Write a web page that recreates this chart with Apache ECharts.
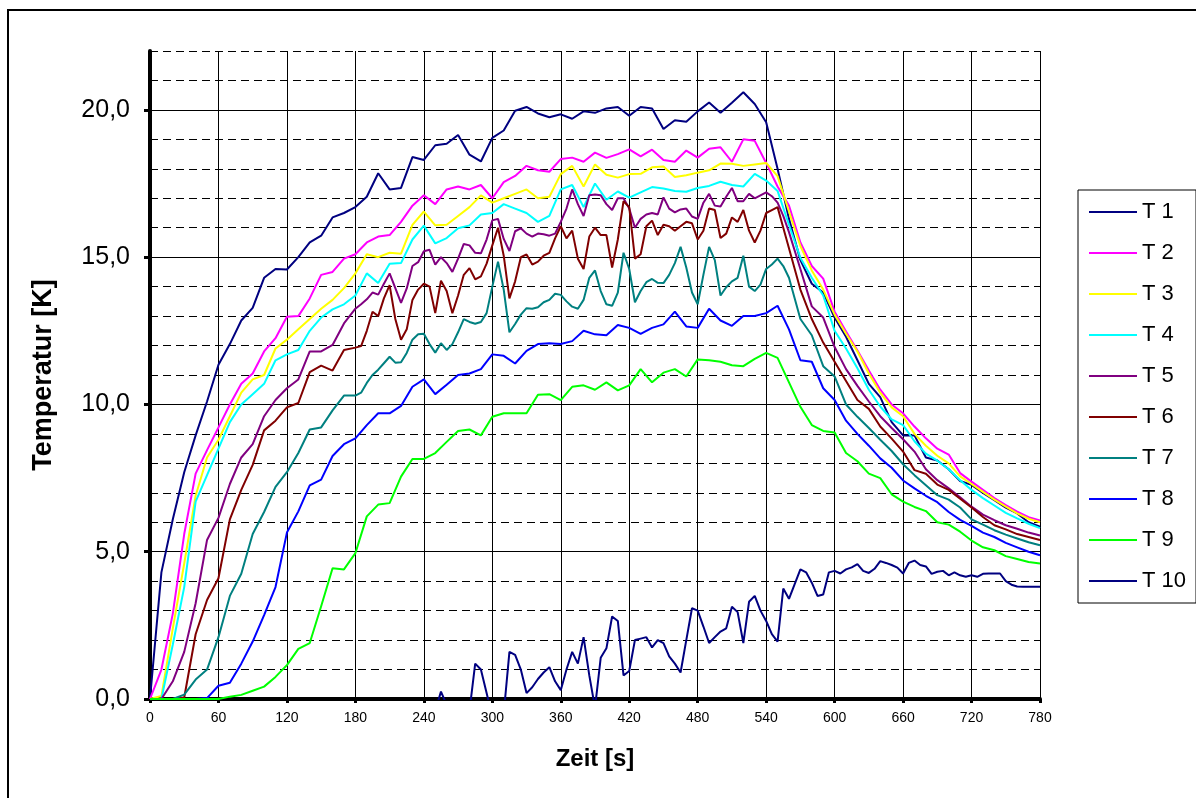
<!DOCTYPE html>
<html>
<head>
<meta charset="utf-8">
<title>Temperatur T 1 - T 10</title>
<script src="https://cdn.jsdelivr.net/npm/echarts@6/dist/echarts.min.js"></script>
<style>
  html, body { margin: 0; padding: 0; background: #fff; }
  #chart { width: 1196px; height: 798px; }
</style>
</head>
<body>
<div id="chart"></div>
<script>
// Zeit [s], 10-s-Raster für T 1 - T 4, T 8, T 9
const seconds = [0, 10, 20, 30, 40, 50, 60, 70, 80, 90,
  100, 110, 120, 130, 140, 150, 160, 170, 180, 190,
  200, 210, 220, 230, 240, 250, 260, 270, 280, 290,
  300, 310, 320, 330, 340, 350, 360, 370, 380, 390,
  400, 410, 420, 430, 440, 450, 460, 470, 480, 490,
  500, 510, 520, 530, 540, 550, 560, 570, 580, 590,
  600, 610, 620, 630, 640, 650, 660, 670, 680, 690,
  700, 710, 720, 730, 740, 750, 760, 770, 780];

// T 5 - T 7 schwanken stark: zwischen 180 und 560 s im 5-s-Raster
const secondsFine = [0, 10, 20, 30, 40, 50, 60, 70, 80, 90,
  100, 110, 120, 130, 140, 150, 160, 170,
  180, 185, 190, 195, 200, 205, 210, 215, 220, 225,
  230, 235, 240, 245, 250, 255, 260, 265, 270, 275,
  280, 285, 290, 295, 300, 305, 310, 315, 320, 325,
  330, 335, 340, 345, 350, 355, 360, 365, 370, 375,
  380, 385, 390, 395, 400, 405, 410, 415, 420, 425,
  430, 435, 440, 445, 450, 455, 460, 465, 470, 475,
  480, 485, 490, 495, 500, 505, 510, 515, 520, 525,
  530, 535, 540, 545, 550, 555, 560,
  570, 580, 590, 600, 610, 620, 630, 640, 650, 660,
  670, 680, 690, 700, 710, 720, 730, 740, 750, 760,
  770, 780];

// T 10 im 5-s-Raster, vor 245 s liegt die Kurve unter 0
const secondsT10 = [245, 250, 255, 260, 265, 270, 275, 280, 285, 290,
  295, 300, 305, 310, 315, 320, 325, 330, 335, 340,
  345, 350, 355, 360, 365, 370, 375, 380, 385, 390,
  395, 400, 405, 410, 415, 420, 425, 430, 435, 440,
  445, 450, 455, 460, 465, 470, 475, 480, 485, 490,
  495, 500, 505, 510, 515, 520, 525, 530, 535, 540,
  545, 550, 555, 560, 565, 570, 575, 580, 585, 590,
  595, 600, 605, 610, 615, 620, 625, 630, 635, 640,
  645, 650, 655, 660, 665, 670, 675, 680, 685, 690,
  695, 700, 705, 710, 715, 720, 725, 730, 735, 740,
  745, 750, 755, 760, 765, 770, 775, 780];

const t1 = [0, 4.3, 6.1, 7.7, 8.95, 10.1, 11.35, 12.05, 12.85, 13.28,
  14.3, 14.6, 14.58, 15.0, 15.5, 15.73, 16.35, 16.5, 16.7, 17.05,
  17.85, 17.3, 17.35, 18.4, 18.3, 18.8, 18.85, 19.15, 18.48, 18.25,
  19.05, 19.3, 19.97, 20.1, 19.88, 19.75, 19.85, 19.7, 19.95, 19.9,
  20.05, 20.1, 19.8, 20.1, 20.05, 19.35, 19.65, 19.6, 19.95, 20.25,
  19.9, 20.24, 20.6, 20.2, 19.58, 18.0, 16.3, 14.9, 14.1, 13.8,
  12.95, 12.3, 11.5, 10.7, 10.25, 9.4, 8.95, 8.95, 8.2, 8.1,
  7.8, 7.4, 7.27, 7.0, 6.75, 6.5, 6.3, 6.0, 5.85];

const t2 = [0, 1.0, 2.9, 5.6, 7.65, 8.45, 9.22, 10.0, 10.7, 11.05,
  11.8, 12.25, 12.98, 13.0, 13.6, 14.4, 14.5, 14.95, 15.1, 15.5,
  15.7, 15.75, 16.2, 16.75, 17.1, 16.8, 17.3, 17.4, 17.3, 17.45,
  17.0, 17.55, 17.76, 18.1, 17.95, 17.9, 18.33, 18.38, 18.24, 18.55,
  18.37, 18.5, 18.66, 18.42, 18.65, 18.3, 18.24, 18.62, 18.38, 18.68,
  18.73, 18.24, 19.0, 18.95, 18.2, 17.4, 16.75, 15.5, 14.7, 14.27,
  13.15, 12.48, 11.83, 11.15, 10.5, 10.0, 9.7, 9.25, 8.85, 8.5,
  8.3, 7.67, 7.38, 7.1, 6.82, 6.58, 6.36, 6.17, 6.06];

const t3 = [0, 0.1, 2.4, 4.6, 6.9, 8.2, 8.8, 9.6, 10.4, 10.85,
  11.0, 11.9, 12.2, 12.55, 12.9, 13.25, 13.55, 13.95, 14.45, 15.1,
  15.0, 15.15, 15.12, 16.1, 16.55, 16.08, 16.1, 16.4, 16.7, 17.1,
  16.85, 17.0, 17.15, 17.3, 17.0, 17.05, 17.82, 18.1, 17.4, 18.15,
  17.8, 17.7, 17.82, 17.83, 18.05, 18.08, 17.72, 17.78, 17.87, 17.95,
  18.18, 18.17, 18.1, 18.15, 18.2, 17.75, 16.55, 15.38, 14.55, 13.9,
  13.05, 12.4, 11.8, 11.05, 10.4, 9.9, 9.6, 9.0, 8.6, 8.26,
  8.0, 7.56, 7.3, 7.03, 6.77, 6.53, 6.3, 6.12, 6.0];

const t4 = [0, 0, 1.85, 3.8, 6.7, 7.6, 8.5, 9.4, 10.0, 10.35,
  10.7, 11.5, 11.7, 11.85, 12.5, 12.95, 13.23, 13.4, 13.7, 14.45,
  14.12, 14.78, 14.8, 15.6, 16.07, 15.47, 15.65, 15.98, 16.08, 16.45,
  16.5, 16.8, 16.65, 16.5, 16.2, 16.4, 17.3, 17.45, 16.7, 17.5,
  16.95, 17.23, 17.02, 17.2, 17.38, 17.33, 17.25, 17.22, 17.35, 17.42,
  17.56, 17.45, 17.4, 17.83, 17.6, 17.25, 16.1, 14.98, 14.3, 13.7,
  12.5, 11.9, 11.23, 10.5, 9.93, 9.49, 9.3, 8.75, 8.33, 8.09,
  7.8, 7.43, 7.1, 6.82, 6.57, 6.32, 6.13, 5.95, 5.8];

const t5 = [0, 0, 0.6, 1.6, 3.25, 5.4, 6.15, 7.3, 8.2, 8.65,
  9.6, 10.15, 10.55, 10.85, 11.8, 11.8, 12.02, 12.75,
  13.25, 13.4, 13.57, 13.8, 13.73, 14.1, 14.45, 13.95, 13.45, 13.94,
  14.7, 14.83, 15.2, 15.25, 14.75, 15.0, 14.8, 14.5, 14.95, 15.45,
  15.4, 15.15, 15.13, 15.6, 16.25, 16.3, 15.62, 15.21, 15.88, 15.98,
  15.8, 15.7, 15.8, 15.78, 15.73, 15.8, 16.2, 16.65, 17.3, 16.8,
  16.4, 17.1, 17.13, 17.1, 16.8, 16.6, 17.0, 17.0, 16.65, 16.0,
  16.3, 16.45, 16.5, 16.45, 17.03, 16.65, 16.52, 16.62, 16.65, 16.38,
  16.3, 16.85, 17.15, 16.75, 16.72, 17.05, 17.35, 16.9, 16.9, 17.15,
  17.0, 17.1, 17.2, 17.07, 16.85, 16.4, 15.85,
  14.6, 13.33, 12.95, 11.95, 11.2, 10.63, 10.1, 9.6, 9.2, 8.82,
  8.4, 7.8, 7.43, 7.15, 6.85, 6.53, 6.26, 6.07, 5.9, 5.78,
  5.65, 5.55];

const t6 = [0, 0, 0, 0.05, 2.2, 3.36, 4.1, 6.1, 7.1, 7.95,
  9.12, 9.45, 9.9, 10.05, 11.1, 11.32, 11.15, 11.85,
  11.93, 11.98, 12.5, 13.15, 13.0, 13.6, 14.05, 12.9, 12.2, 12.55,
  13.55, 13.9, 14.1, 14.0, 13.1, 14.2, 13.85, 13.1, 13.7, 14.4,
  14.63, 14.25, 14.35, 14.78, 15.4, 16.0, 15.05, 13.6, 14.18, 15.0,
  15.09, 14.75, 14.85, 15.05, 15.15, 15.64, 16.05, 15.64, 15.9, 14.95,
  14.6, 15.7, 16.0, 15.75, 15.75, 14.65, 15.6, 16.9, 16.7, 14.95,
  15.1, 16.05, 16.24, 15.75, 16.1, 16.05, 15.9, 16.05, 16.2, 16.15,
  15.6, 15.9, 16.65, 16.6, 15.65, 15.8, 16.35, 16.2, 16.6, 15.9,
  15.5, 15.9, 16.5, 16.6, 16.7, 16.0, 15.3,
  13.9, 12.9, 12.1, 11.45, 10.8, 10.15, 9.85, 9.25, 8.84, 8.4,
  7.77, 7.65, 7.28, 7.1, 6.8, 6.5, 6.18, 5.9, 5.76, 5.6,
  5.5, 5.4];

const t7 = [0, 0, 0, 0.15, 0.66, 1.0, 2.1, 3.5, 4.25, 5.6,
  6.35, 7.2, 7.7, 8.35, 9.15, 9.22, 9.8, 10.3,
  10.3, 10.4, 10.73, 11.0, 11.18, 11.4, 11.62, 11.42, 11.43, 11.75,
  12.2, 12.38, 12.4, 12.05, 11.76, 12.08, 11.85, 12.05, 12.45, 12.9,
  12.8, 12.74, 12.8, 13.1, 14.0, 14.85, 13.9, 12.45, 12.73, 13.05,
  13.27, 13.25, 13.3, 13.47, 13.55, 13.76, 13.72, 13.5, 13.32, 13.25,
  13.55, 14.3, 14.55, 13.85, 13.4, 13.35, 13.8, 15.15, 14.6, 13.47,
  13.85, 14.15, 14.26, 14.13, 14.12, 14.4, 14.8, 15.35, 14.65, 13.8,
  13.4, 14.4, 15.35, 14.9, 13.7, 13.98, 14.18, 14.3, 15.05, 14.0,
  13.85, 14.07, 14.6, 14.75, 14.95, 14.7, 14.3,
  12.9, 12.35, 11.3, 10.95, 10.0, 9.58, 9.2, 8.8, 8.42, 7.97,
  7.6, 7.26, 6.92, 6.77, 6.5, 6.1, 5.92, 5.73, 5.58, 5.45,
  5.32, 5.22];

const t8 = [0, 0, 0, 0, 0, 0.03, 0.45, 0.55, 1.2, 1.95,
  2.85, 3.8, 5.65, 6.37, 7.25, 7.45, 8.25, 8.65, 8.85, 9.3,
  9.7, 9.7, 9.95, 10.6, 10.85, 10.35, 10.67, 11.0, 11.05, 11.2,
  11.7, 11.65, 11.39, 11.82, 12.05, 12.08, 12.05, 12.15, 12.5, 12.38,
  12.35, 12.7, 12.6, 12.4, 12.6, 12.72, 13.15, 12.65, 12.6, 13.25,
  12.85, 12.67, 13.0, 13.0, 13.1, 13.35, 12.55, 11.5, 11.45, 10.55,
  10.15, 9.45, 9.0, 8.6, 8.17, 7.85, 7.42, 7.15, 6.9, 6.68,
  6.35, 6.08, 5.88, 5.65, 5.5, 5.3, 5.15, 5.0, 4.88];

const t9 = [0, 0, 0, 0, 0, 0, 0, 0.08, 0.14, 0.28,
  0.42, 0.75, 1.15, 1.7, 1.9, 3.15, 4.44, 4.4, 4.95, 6.2,
  6.6, 6.65, 7.55, 8.15, 8.15, 8.35, 8.73, 9.1, 9.15, 8.95,
  9.58, 9.7, 9.7, 9.7, 10.33, 10.35, 10.15, 10.6, 10.65, 10.5,
  10.75, 10.48, 10.65, 11.2, 10.75, 11.08, 11.2, 10.95, 11.53, 11.5,
  11.45, 11.33, 11.3, 11.55, 11.75, 11.58, 10.75, 9.92, 9.3, 9.1,
  9.05, 8.35, 8.07, 7.65, 7.5, 6.95, 6.7, 6.52, 6.38, 6.0,
  5.92, 5.68, 5.38, 5.15, 5.05, 4.85, 4.75, 4.65, 4.6];

const t10 = [-0.8, -0.4, 0.25, -0.2, -1.0, -1.2, -0.8, -0.4, 1.2, 1.0,
  0.2, -0.6, -1.0, -0.5, 1.6, 1.5, 1.0, 0.2, 0.4, 0.68,
  0.9, 1.08, 0.6, 0.3, 1.0, 1.6, 1.2, 2.1, 0.8, -0.3,
  1.4, 1.72, 2.8, 2.65, 0.8, 0.95, 2.0, 2.05, 2.1, 1.75,
  2.0, 1.9, 1.45, 1.2, 0.9, 2.0, 3.08, 3.0, 2.46, 1.9,
  2.1, 2.29, 2.4, 3.13, 2.95, 1.9, 3.3, 3.5, 3.0, 2.65,
  2.2, 1.95, 3.75, 3.4, 3.9, 4.4, 4.3, 3.95, 3.5, 3.55,
  4.3, 4.35, 4.26, 4.4, 4.47, 4.58, 4.35, 4.28, 4.42, 4.68,
  4.62, 4.55, 4.46, 4.26, 4.62, 4.7, 4.55, 4.5, 4.25, 4.32,
  4.35, 4.2, 4.3, 4.2, 4.15, 4.2, 4.15, 4.25, 4.26, 4.26,
  4.26, 4.0, 3.88, 3.82, 3.81, 3.81, 3.81, 3.81];

const names = ["T 1", "T 2", "T 3", "T 4", "T 5", "T 6", "T 7", "T 8", "T 9", "T 10"];
const colors = ["#000080", "#ff00ff", "#ffff00", "#00ffff", "#800080",
  "#800000", "#008080", "#0000ff", "#00ff00", "#000080"];

const xTicks = [0, 60, 120, 180, 240, 300, 360, 420, 480, 540, 600, 660, 720, 780];
const yTicks = [0, 5, 10, 15, 20];

function pairs(times, values) {
  return times.map((t, i) => [t, values[i]]);
}

const curves = [
  [seconds, t1], [seconds, t2], [seconds, t3], [seconds, t4],
  [secondsFine, t5], [secondsFine, t6], [secondsFine, t7],
  [seconds, t8], [seconds, t9], [secondsT10, t10]
];

const series = curves.map((c, i) => ({
  name: names[i],
  type: "line",
  data: pairs(c[0], c[1]),
  showSymbol: false,
  symbol: "none",
  lineStyle: { width: 2 },
  clip: true
}));

let chart = echarts.init(document.getElementById("chart"));
chart.setOption({
  animation: false,
  color: colors,
  textStyle: { fontFamily: "Liberation Sans, Arial, sans-serif", color: "#000" },
  graphic: [
    {
      type: "rect",
      silent: true,
      shape: { x: 8, y: 10, width: 1300, height: 900 },
      style: { fill: "none", stroke: "#000", lineWidth: 2 }
    }
  ],
  grid: { left: 150, top: 51, right: 156, bottom: 99 },
  legend: {
    data: names,
    orient: "vertical",
    left: 1078,
    top: 190,
    padding: [11, 10, 11, 11],
    itemGap: 19,
    itemWidth: 48,
    itemHeight: 2,
    icon: "rect",
    selectedMode: false,
    borderColor: "#000",
    borderWidth: 1,
    textStyle: { fontSize: 22, lineHeight: 22, color: "#000" }
  },
  xAxis: {
    type: "value",
    min: 0,
    max: 780,
    interval: 60,
    name: "Zeit [s]",
    nameLocation: "middle",
    nameGap: 48,
    nameTextStyle: { fontSize: 24, fontWeight: "bold", color: "#000" },
    axisLine: { lineStyle: { color: "#000", width: 4 } },
    axisTick: { length: 4, lineStyle: { color: "#000", width: 3 }, customValues: xTicks },
    axisLabel: { fontSize: 14, color: "#000", margin: 12 },
    splitLine: { lineStyle: { color: "#000", width: 1 } }
  },
  yAxis: [
    {
      type: "value",
      min: 0,
      max: 22,
      interval: 1,
      name: "Temperatur [K]",
      nameLocation: "middle",
      nameGap: 93,
      nameTextStyle: { fontSize: 27, fontWeight: "bold", color: "#000" },
      axisLine: { show: true, lineStyle: { color: "#000", width: 4 } },
      axisTick: { show: false },
      axisLabel: { show: false },
      splitLine: { lineStyle: { color: "#000", width: 1, type: [8, 5] } }
    },
    {
      type: "value",
      min: 0,
      max: 22,
      interval: 5,
      position: "left",
      axisLine: { show: false },
      axisTick: { show: true, length: 6, lineStyle: { color: "#000", width: 3 }, customValues: yTicks },
      axisLabel: {
        fontSize: 25,
        color: "#000",
        margin: 20,
        formatter: v => (v > 20 ? "" : v.toFixed(1).replace(".", ","))
      },
      splitLine: {
        lineStyle: { color: ["#000", "#000", "#000", "#000", "#000", "rgba(0,0,0,0)"], width: 1 }
      }
    }
  ],
  series: series
});
</script>
</body>
</html>
